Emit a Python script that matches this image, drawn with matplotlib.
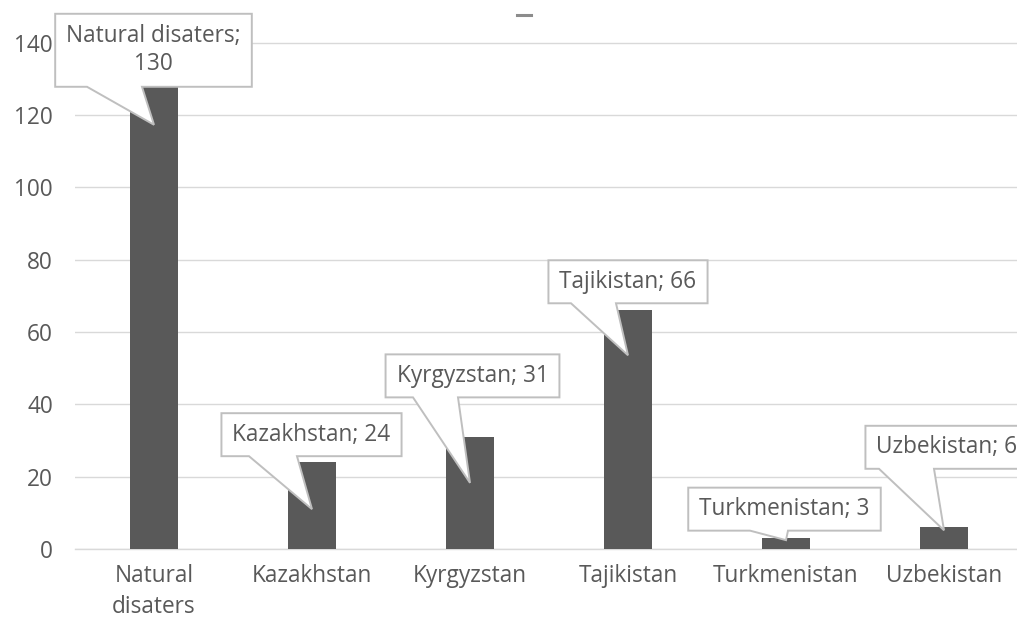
import matplotlib
matplotlib.use('Agg')
import matplotlib.pyplot as plt
from matplotlib.patches import Polygon
from matplotlib.lines import Line2D
from matplotlib.transforms import IdentityTransform

# ---- data ----
categories = ['Natural\ndisaters', 'Kazakhstan', 'Kyrgyzstan', 'Tajikistan', 'Turkmenistan', 'Uzbekistan']
label_names = ['Natural disaters', 'Kazakhstan', 'Kyrgyzstan', 'Tajikistan', 'Turkmenistan', 'Uzbekistan']
values = [130, 24, 31, 66, 3, 6]
yticks = [0, 20, 40, 60, 80, 100, 120, 140]

# ---- callout styling (pixels): tip depth below bar top, text centre offset, wedge base offsets ----
tip_depth = [46, 47, 46, 45, 2, 3]
box_dx = [-0.5, -0.5, 2.5, 0, -1.5, 3]
box_dy = [74.5, 74.5, 107, 73.5, 31, 83]
wedge_l = [-67, -63, -57, -57, -36, -65]
wedge_r = [-12, -15, -12, -12, 2, -10]

W, H = 1017, 628
FONT = 'Open Sans'
TXT = '#595959'
FS = 16.3
plt.rcParams['font.family'] = [FONT, 'DejaVu Sans']

fig = plt.figure(figsize=(W / 100, H / 100), dpi=100)
ax = fig.add_axes([75 / W, (H - 549) / H, 1 - 75 / W, 549 / H])

x = list(range(len(categories)))
ax.bar(x, values, width=0.30, color='#595959', zorder=3)
ax.set_xlim(-0.5, -0.5 + (W - 75) / 158)
ax.set_ylim(0, 549 / 3.617)
ax.set_yticks(yticks)
ax.set_yticklabels([str(t) for t in yticks])
ax.set_xticks(x)
ax.set_xticklabels(categories, linespacing=1.35)
ax.grid(axis='y', color='#d9d9d9', lw=1.0, zorder=0)
ax.set_axisbelow(True)
for s in ['left', 'right', 'top']:
    ax.spines[s].set_visible(False)
ax.spines['bottom'].set_color('#d9d9d9')
ax.spines['bottom'].set_linewidth(1.0)
ax.tick_params(axis='both', length=0, labelsize=FS, labelcolor=TXT)
ax.tick_params(axis='y', pad=16)
ax.tick_params(axis='x', pad=11)

# faint title remnant
fig.add_artist(Line2D([517 / W, 531 / W], [1 - 15 / H, 1 - 15 / H], color='#8c8c8c', lw=2.2))

renderer = fig.canvas.get_renderer()
for i, v in enumerate(values):
    sep = '\n' if i == 0 else ' '
    label = f'{label_names[i]};{sep}{v}'
    bx, by = ax.transData.transform((i, v))
    tx, ty = bx, by - tip_depth[i]
    cx, cy = tx + box_dx[i], ty + box_dy[i]
    t = ax.text(cx, cy, label, transform=IdentityTransform(), ha='center', va='center',
                ma='center', fontsize=FS, color=TXT, zorder=7, clip_on=False, linespacing=1.2)
    bb = t.get_window_extent(renderer=renderer)
    bw = bb.width + 22
    bh = 73 if '\n' in label else 43
    x0, x1 = cx - bw / 2, cx + bw / 2
    y0, y1 = cy - bh / 2, cy + bh / 2
    verts = [(x0, y1), (x1, y1), (x1, y0), (tx + wedge_r[i], y0), (tx, ty),
             (tx + wedge_l[i], y0), (x0, y0)]
    poly = Polygon(verts, closed=True, facecolor='white', edgecolor='#bfbfbf', lw=1.4,
                   transform=IdentityTransform(), zorder=6, clip_on=False)
    ax.add_patch(poly)

fig.savefig('out.png', dpi=100, facecolor='white')
